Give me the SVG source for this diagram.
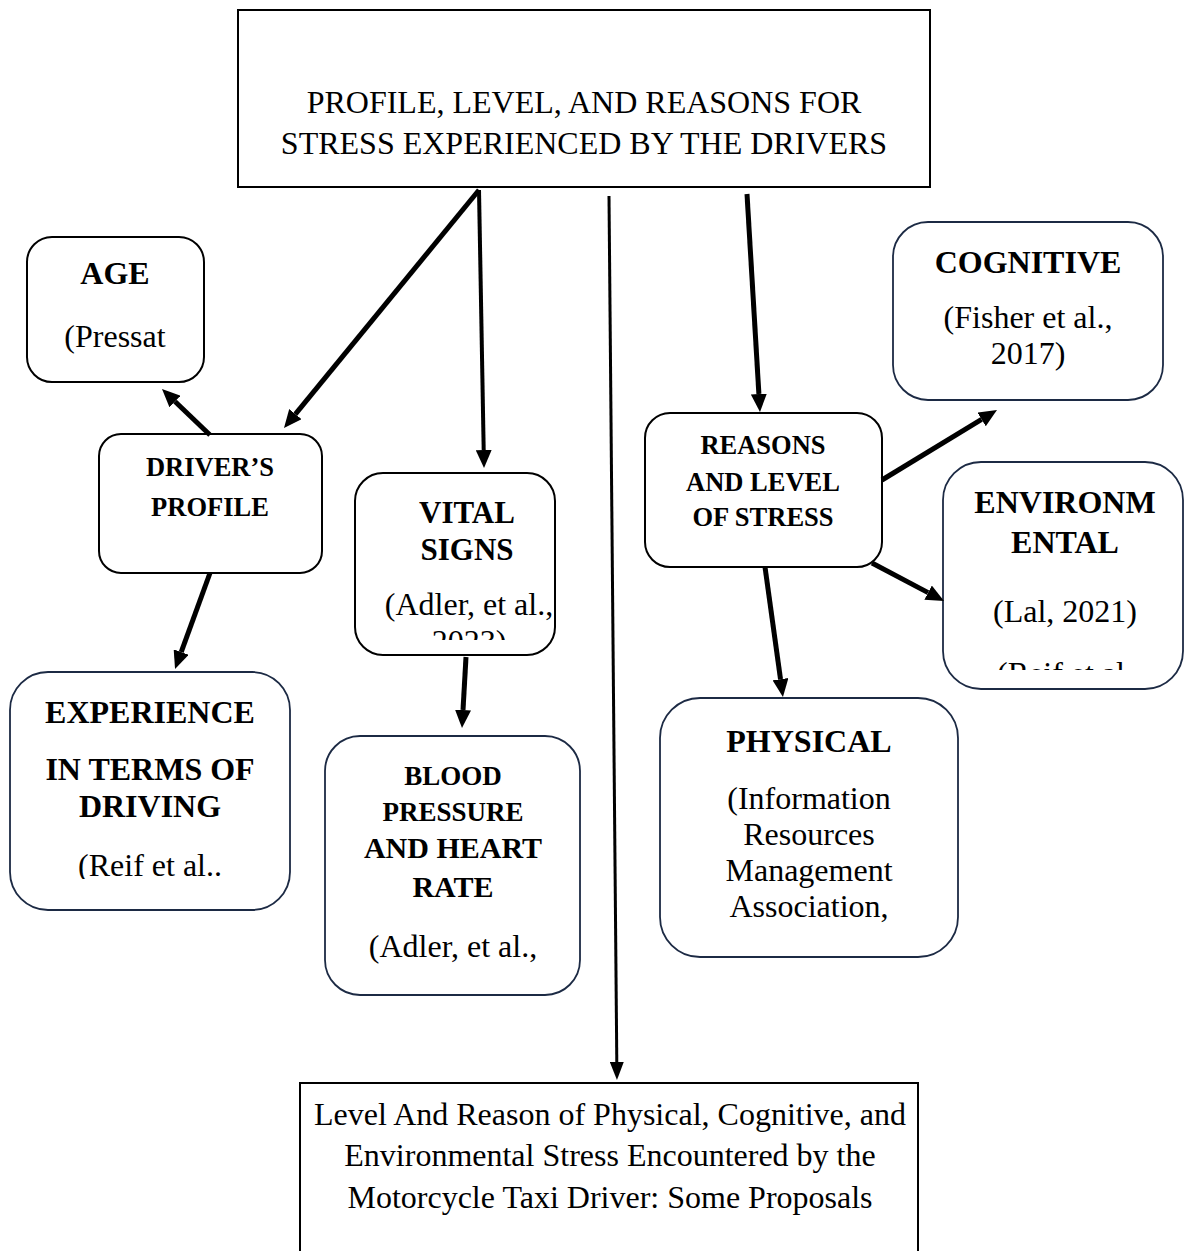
<svg xmlns="http://www.w3.org/2000/svg" width="1184" height="1251" viewBox="0 0 1184 1251">
<style>
text{font-family:"Liberation Serif","Times New Roman",serif;fill:#000;text-anchor:middle}
.b{font-weight:bold}
.r32{font-size:32px}
.b32{font-size:32px;font-weight:bold}
.b26{font-size:26.5px;font-weight:bold}
.box{fill:#fff;stroke:#000;stroke-width:2}
.nbox{fill:#fff;stroke:#1c2a44;stroke-width:1.8}
.arr{stroke:#000;stroke-width:5;fill:none;marker-end:url(#ah)}
.thin{stroke:#000;stroke-width:3;fill:none;marker-end:url(#ahs)}
</style>
<defs>
<marker id="ah" markerUnits="userSpaceOnUse" markerWidth="18" markerHeight="16" refX="0" refY="8" orient="auto"><path d="M0,0 L18,8 L0,16 z" fill="#000"/></marker>
<marker id="ahs" markerUnits="userSpaceOnUse" markerWidth="18" markerHeight="14" refX="0" refY="7" orient="auto"><path d="M0,0 L18,7 L0,14 z" fill="#000"/></marker>
<clipPath id="cVital"><rect x="355" y="473" width="200" height="167"/></clipPath>
<clipPath id="cEnv"><rect x="943" y="462" width="240" height="208"/></clipPath>
<clipPath id="cExp"><rect x="10" y="672" width="280" height="207"/></clipPath>
</defs>

<g id="top">
<rect class="box" x="238" y="10" width="692" height="177"/>
<text class="r32" x="584" y="113">PROFILE, LEVEL, AND REASONS FOR</text>
<text class="r32" x="584" y="154">STRESS EXPERIENCED BY THE DRIVERS</text>
</g>

<g id="age">
<rect class="box" x="27" y="237" width="177" height="145" rx="25"/>
<text class="b32" x="115" y="284">AGE</text>
<text class="r32" x="115" y="347">(Pressat</text>
</g>

<g id="driver">
<rect class="box" x="99" y="434" width="223" height="139" rx="22"/>
<text class="b26" x="210" y="476">DRIVER’S</text>
<text class="b26" x="210" y="516">PROFILE</text>
</g>

<g id="vital">
<rect class="box" x="355" y="473" width="200" height="182" rx="28"/>
<text class="b" font-size="31" x="467" y="523">VITAL</text>
<text class="b" font-size="31" x="467" y="560">SIGNS</text>
<text class="r32" x="469" y="615">(Adler, et al.,</text>
<text class="r32" x="469" y="652" clip-path="url(#cVital)">2023)</text>
</g>

<g id="blood">
<rect class="nbox" x="325" y="736" width="255" height="259" rx="35"/>
<text class="b" font-size="27" x="453" y="785">BLOOD</text>
<text class="b" font-size="27" x="453" y="821">PRESSURE</text>
<text class="b" font-size="30" x="453" y="858">AND HEART</text>
<text class="b" font-size="30" x="453" y="897">RATE</text>
<text class="r32" x="453" y="957">(Adler, et al.,</text>
</g>

<g id="experience">
<rect class="nbox" x="10" y="672" width="280" height="238" rx="38"/>
<text class="b32" x="150" y="723">EXPERIENCE</text>
<text class="b32" x="150" y="780">IN TERMS OF</text>
<text class="b32" x="150" y="817">DRIVING</text>
<text class="r32" x="150" y="876" clip-path="url(#cExp)">(Reif et al..</text>
</g>

<g id="reasons">
<rect class="box" x="645" y="413" width="237" height="154" rx="25"/>
<text class="b26" x="763" y="454">REASONS</text>
<text class="b26" x="763" y="491">AND LEVEL</text>
<text class="b26" x="763" y="526">OF STRESS</text>
</g>

<g id="cognitive">
<rect class="nbox" x="893" y="222" width="270" height="178" rx="35"/>
<text class="b32" x="1028" y="273">COGNITIVE</text>
<text class="r32" x="1028" y="328">(Fisher et al.,</text>
<text class="r32" x="1028" y="364">2017)</text>
</g>

<g id="environmental">
<rect class="nbox" x="943" y="462" width="240" height="227" rx="38"/>
<text class="b32" x="1065" y="513">ENVIRONM</text>
<text class="b32" x="1065" y="553">ENTAL</text>
<text class="r32" x="1065" y="622">(Lal, 2021)</text>
<text class="r32" x="1065" y="684" clip-path="url(#cEnv)">(Reif et al.</text>
</g>

<g id="physical">
<rect class="nbox" x="660" y="698" width="298" height="259" rx="40"/>
<text class="b32" x="809" y="752">PHYSICAL</text>
<text class="r32" x="809" y="809">(Information</text>
<text class="r32" x="809" y="845">Resources</text>
<text class="r32" x="809" y="881">Management</text>
<text class="r32" x="809" y="917">Association,</text>
</g>

<g id="bottom">
<rect class="box" x="300" y="1083" width="618" height="180"/>
<text class="r32" x="610" y="1125">Level And Reason of Physical, Cognitive, and</text>
<text class="r32" x="610" y="1166">Environmental Stress Encountered by the</text>
<text class="r32" x="610" y="1208">Motorcycle Taxi Driver: Some Proposals</text>
</g>

<g id="connectors">
<line class="arr" x1="479" y1="190" x2="295.4" y2="414.1"/>
<line class="arr" x1="479" y1="190" x2="483.7" y2="450" style="stroke-width:4"/>
<line class="thin" x1="609" y1="196" x2="616.8" y2="1062"/>
<line class="arr" x1="747" y1="194" x2="758.9" y2="394"/>
<line class="arr" x1="210" y1="435" x2="175" y2="401.5"/>
<line class="arr" x1="210" y1="573" x2="181.2" y2="652.1"/>
<line class="arr" x1="466" y1="657" x2="463" y2="710"/>
<line class="arr" x1="882" y1="480" x2="981.6" y2="419.4"/>
<line class="arr" x1="872" y1="563" x2="928.1" y2="592.6"/>
<line class="arr" x1="765" y1="567" x2="780.5" y2="679.2"/>
</g>
</svg>
